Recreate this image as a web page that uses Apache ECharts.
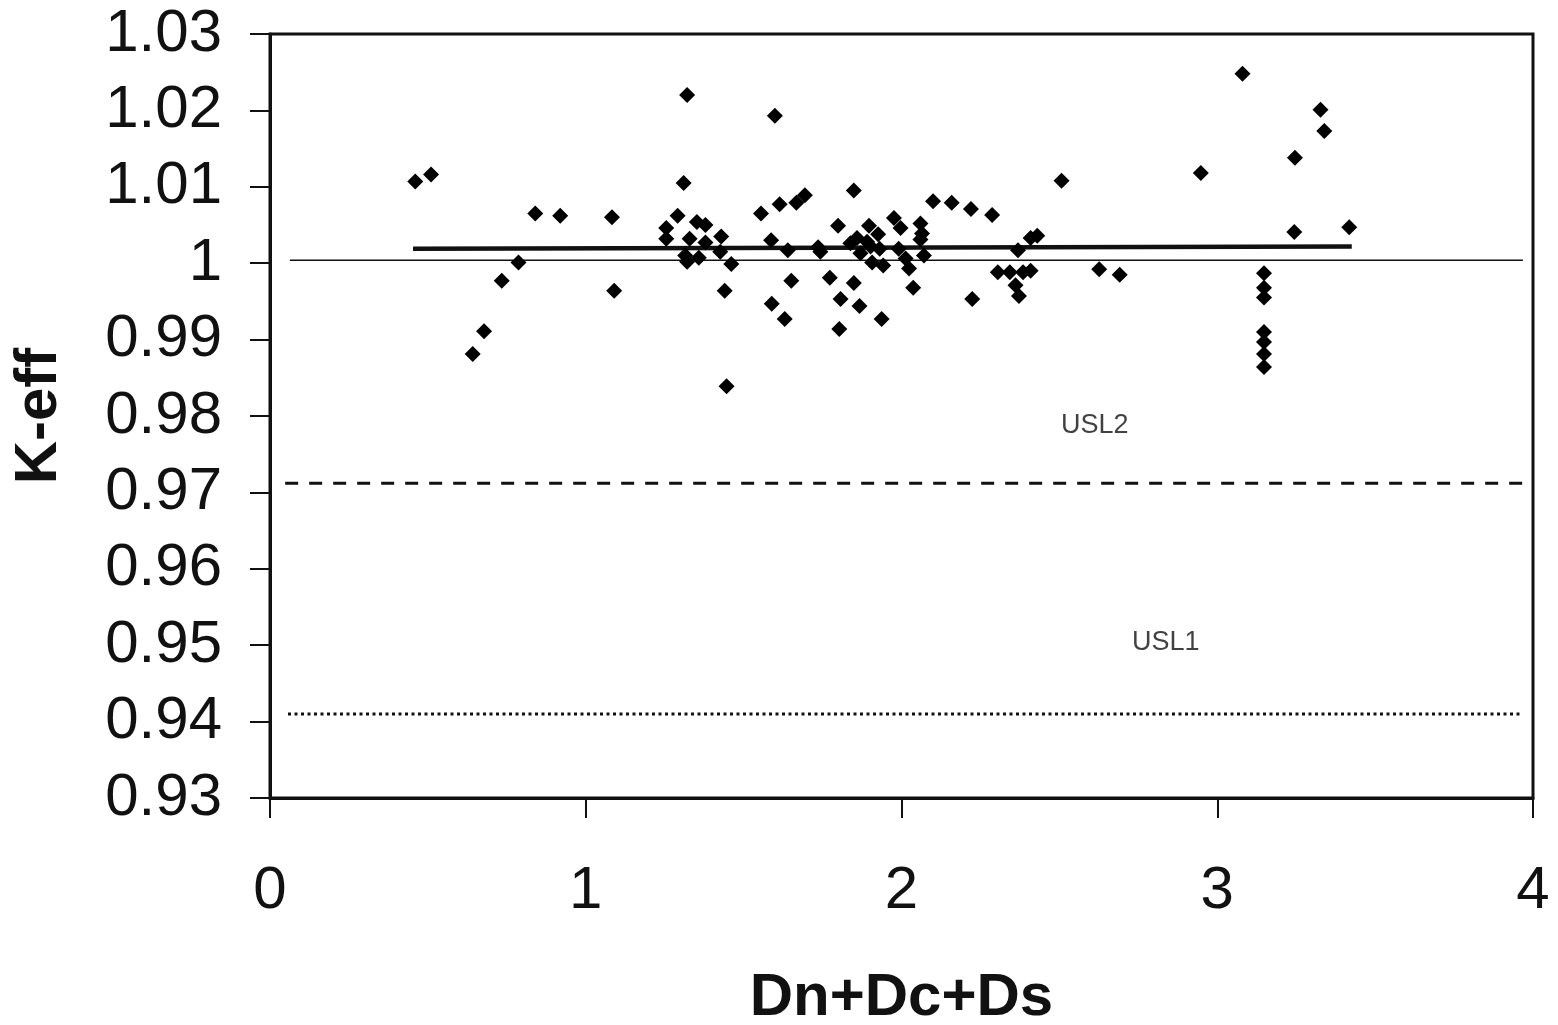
<!DOCTYPE html>
<html>
<head>
<meta charset="utf-8">
<script src="https://cdn.jsdelivr.net/npm/echarts@6/dist/echarts.min.js"></script>
<style>
html,body{margin:0;padding:0;background:#fff;}
#chart{width:1558px;height:1025px;}
</style>
</head>
<body>
<div id="chart"></div>
<script>
// Scatter points: Dn+Dc+Ds (x) and K-eff (y)
const sumD = [0.460,0.510,0.840,0.919,1.083,1.310,1.291,1.255,1.255,0.787,0.734,1.090,0.678,0.642,
  1.321,1.599,1.352,1.379,1.329,1.379,1.315,1.321,1.358,1.429,1.426,1.461,1.440,1.446,1.555,1.614,
  1.667,1.694,1.587,1.640,1.651,1.589,1.630,1.736,1.743,1.773,1.807,1.803,1.799,1.849,1.849,1.867,
  1.838,1.859,1.891,1.870,1.902,1.897,1.926,1.931,1.907,1.942,1.937,1.976,1.997,1.991,2.013,2.024,
  2.037,2.060,2.065,2.060,2.071,2.100,2.159,2.220,2.287,2.507,2.224,2.369,2.409,2.430,2.305,2.343,
  2.385,2.409,2.361,2.372,2.626,2.691,2.948,3.080,3.327,3.339,3.246,3.244,3.418,
  3.148,3.148,3.148,3.148,3.148,3.148,3.148];
const keff = [1.0107,1.0116,1.0065,1.0062,1.0060,1.0105,1.0062,1.0046,1.0032,1.0001,0.9977,0.9964,0.9911,0.9881,
  1.0220,1.0193,1.0054,1.0050,1.0032,1.0027,1.0010,1.0002,1.0007,1.0035,1.0015,0.9999,0.9964,0.9839,1.0065,1.0077,
  1.0079,1.0089,1.0030,1.0017,0.9977,0.9947,0.9927,1.0021,1.0015,0.9981,0.9953,0.9914,1.0049,1.0095,0.9974,0.9944,
  1.0026,1.0033,1.0028,1.0013,1.0022,1.0049,1.0038,1.0019,1.0001,0.9997,0.9927,1.0059,1.0046,1.0019,1.0006,0.9993,
  0.9968,1.0052,1.0039,1.0031,1.0010,1.0081,1.0079,1.0071,1.0063,1.0108,0.9953,1.0017,1.0033,1.0036,0.9988,0.9988,
  0.9988,0.9990,0.9971,0.9957,0.9992,0.9985,1.0118,1.0248,1.0201,1.0173,1.0138,1.0041,1.0047,
  0.9987,0.9968,0.9955,0.9910,0.9897,0.9881,0.9864];

// Trend (fitted) line
const trendX = [0.453, 3.426];
const trendY = [1.0019, 1.0022];
// Thin reference line near 1
const refX = [0.063, 3.968];
const refY = [1.0004, 1.0004];
// USL2 (dashed) and USL1 (dotted)
const usl2X = [0.048, 3.968];
const usl2Y = [0.9712, 0.9712];
const usl1X = [0.057, 3.968];
const usl1Y = [0.9410, 0.9410];
// Text labels
const labelNames = ['USL2', 'USL1'];
const labelX = [2.612, 2.837];
const labelY = [0.9788, 0.9503];

const xTicks = {min: 0, max: 4, interval: 1};
const yTicks = {min: 0.93, max: 1.03, interval: 0.01};

const zip = (a, b) => a.map((v, i) => [v, b[i]]);
const FONT = '"Liberation Sans", Arial, sans-serif';

const chart = echarts.init(document.getElementById('chart'), null, {renderer: 'canvas'});
chart.setOption({
  animation: false,
  backgroundColor: '#ffffff',
  grid: {left: 270, right: 25, top: 34, bottom: 227, containLabel: false, outerBoundsMode: 'none',
    show: true, borderColor: '#111', borderWidth: 3, backgroundColor: 'transparent'},
  xAxis: {
    type: 'value', min: xTicks.min, max: xTicks.max, interval: xTicks.interval,
    name: 'Dn+Dc+Ds', nameLocation: 'middle', nameGap: 170,
    nameTextStyle: {fontFamily: FONT, fontSize: 60, fontWeight: 'bold', color: '#111'},
    axisLine: {show: true, lineStyle: {color: '#111', width: 3}},
    axisTick: {show: true, inside: false, length: 20, lineStyle: {color: '#111', width: 2}},
    axisLabel: {fontFamily: FONT, fontSize: 60, color: '#111', margin: 63},
    splitLine: {show: false}
  },
  yAxis: {
    type: 'value', min: yTicks.min, max: yTicks.max, interval: yTicks.interval,
    name: 'K-eff', nameLocation: 'middle', nameGap: 201, nameRotate: 90,
    nameTextStyle: {fontFamily: FONT, fontSize: 60, fontWeight: 'bold', color: '#111'},
    axisLine: {show: true, lineStyle: {color: '#111', width: 3}},
    axisTick: {show: true, inside: false, length: 20, lineStyle: {color: '#111', width: 2}},
    axisLabel: {fontFamily: FONT, fontSize: 60, color: '#111', margin: 48,
      formatter: v => String(parseFloat(v.toFixed(2)))},
    splitLine: {show: false}
  },
  series: [
    {type: 'line', data: zip(refX, refY), symbol: 'none', lineStyle: {color: '#111', width: 1.5}, z: 2},
    {type: 'line', data: zip(usl2X, usl2Y), symbol: 'none', lineStyle: {color: '#111', width: 3, type: [13, 11]}, z: 2},
    {type: 'line', data: zip(usl1X, usl1Y), symbol: 'none', lineStyle: {color: '#111', width: 3, type: [3, 3.5]}, z: 2},
    {type: 'line', data: zip(trendX, trendY), symbol: 'none', lineStyle: {color: '#111', width: 4.5}, z: 3},
    {type: 'scatter', data: zip(sumD, keff), symbol: 'diamond', symbolSize: 16, itemStyle: {color: '#000', opacity: 1}, z: 4},
    {type: 'scatter', data: labelNames.map((n, i) => ({value: [labelX[i], labelY[i]], name: n})),
      symbolSize: 1, itemStyle: {color: 'rgba(0,0,0,0)'},
      label: {show: true, position: 'inside', formatter: p => p.name, fontFamily: FONT, fontSize: 27, color: '#111'}, z: 5}
  ]
});
</script>
</body>
</html>
